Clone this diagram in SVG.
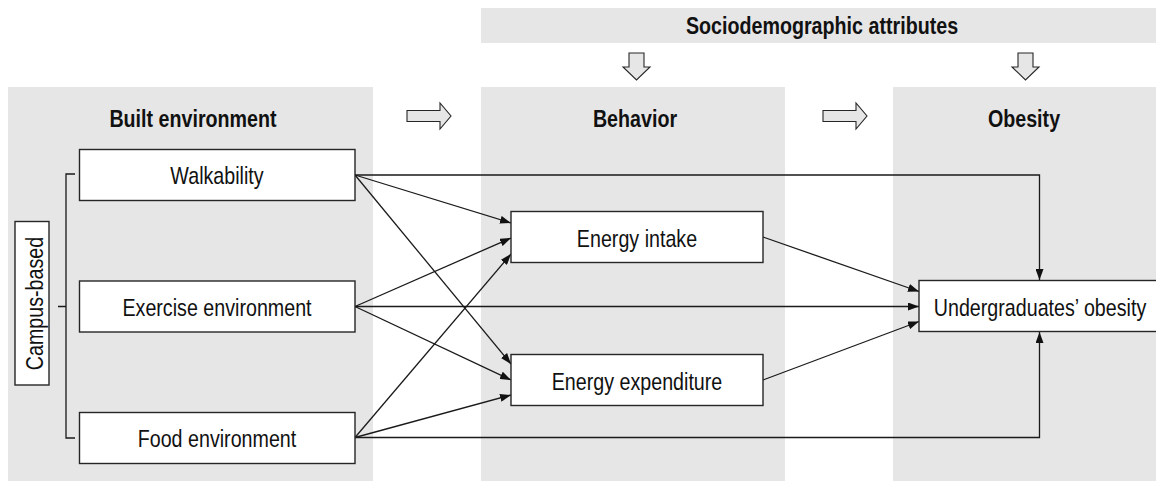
<svg xmlns="http://www.w3.org/2000/svg" width="1156" height="483" viewBox="0 0 1156 483">
<style>
.panel{fill:#e6e6e6;stroke:none}
.box{fill:#ffffff;stroke:#262626;stroke-width:1.4}
.blk{fill:#e6e6e6;stroke:#262626;stroke-width:1.1;stroke-linejoin:miter}
.t{font-family:"Liberation Sans",Arial,sans-serif;font-size:24px;fill:#111;text-anchor:middle}
.h{font-family:"Liberation Sans",Arial,sans-serif;font-size:24px;font-weight:bold;fill:#111;text-anchor:middle}
.ln{fill:none;stroke:#1a1a1a;stroke-width:1.3}
.br{fill:none;stroke:#1a1a1a;stroke-width:1.3}
</style>
<defs>
<marker id="ah" markerUnits="userSpaceOnUse" markerWidth="11" markerHeight="8" refX="11" refY="4" orient="auto">
<path d="M0,0 L11,4 L0,8 z" fill="#111"/>
</marker>
</defs>
<g id="backgrounds">
<rect class="panel" x="481" y="8" width="675" height="35"/>
<rect class="panel" x="8" y="87" width="365" height="394"/>
<rect class="panel" x="481" y="87" width="304" height="394"/>
<rect class="panel" x="893" y="87" width="263" height="394"/>
</g>
<g id="headers">
<text class="h" transform="translate(822,34) scale(0.82,1)">Sociodemographic attributes</text>
<text class="h" transform="translate(193,127) scale(0.82,1)">Built environment</text>
<text class="h" transform="translate(635,127) scale(0.82,1)">Behavior</text>
<text class="h" transform="translate(1024,127) scale(0.82,1)">Obesity</text>
</g>
<g id="block-arrows">
<polygon class="blk" points="407,110.5 440,110.5 440,103 451,116 440,129 440,121.5 407,121.5"/>
<polygon class="blk" points="823,110.5 856,110.5 856,103 867,116 856,129 856,121.5 823,121.5"/>
<polygon class="blk" points="629,53 644,53 644,67 650,67 636.5,80 623,67 629,67"/>
<polygon class="blk" points="1018,53 1033,53 1033,67 1039,67 1025.5,80 1012,67 1018,67"/>
</g>
<g id="connectors">
<path class="ln" d="M355,175 H1039.5 V280" marker-end="url(#ah)"/>
<path class="ln" d="M355,437.5 H1039.5 V332" marker-end="url(#ah)"/>
<path class="ln" d="M355,306.5 H919" marker-end="url(#ah)"/>
<path class="ln" d="M355,175 L511,223" marker-end="url(#ah)"/>
<path class="ln" d="M355,175 L511,364" marker-end="url(#ah)"/>
<path class="ln" d="M355,306.5 L511,238" marker-end="url(#ah)"/>
<path class="ln" d="M355,306.5 L511,380" marker-end="url(#ah)"/>
<path class="ln" d="M355,437.5 L511,254" marker-end="url(#ah)"/>
<path class="ln" d="M355,437.5 L511,395" marker-end="url(#ah)"/>
<path class="ln" d="M763,237 L919,291.5" marker-end="url(#ah)"/>
<path class="ln" d="M763,380 L919,321.5" marker-end="url(#ah)"/>
</g>
<g id="campus-bracket">
<path class="br" d="M75,174 H66 V438 H75 M58,306.5 H66"/>
</g>
<g id="campus-based">
<rect class="box" x="15" y="221.5" width="34" height="163.5"/>
<text class="t" transform="translate(42.5,303.5) rotate(-90) scale(0.82,1)">Campus-based</text>
</g>
<g id="walkability">
<rect class="box" x="79.5" y="149.5" width="275.5" height="51"/>
<text class="t" transform="translate(217,184) scale(0.82,1)">Walkability</text>
</g>
<g id="exercise-environment">
<rect class="box" x="79.5" y="281" width="275.5" height="51"/>
<text class="t" transform="translate(217,315.5) scale(0.82,1)">Exercise environment</text>
</g>
<g id="food-environment">
<rect class="box" x="79.5" y="412.5" width="275.5" height="51"/>
<text class="t" transform="translate(217,447) scale(0.82,1)">Food environment</text>
</g>
<g id="energy-intake">
<rect class="box" x="511" y="211.5" width="252" height="51"/>
<text class="t" transform="translate(637,246.5) scale(0.82,1)">Energy intake</text>
</g>
<g id="energy-expenditure">
<rect class="box" x="511" y="354.5" width="252" height="51"/>
<text class="t" transform="translate(637,389.5) scale(0.82,1)">Energy expenditure</text>
</g>
<g id="undergraduates-obesity">
<rect class="box" x="919" y="280.5" width="245" height="51"/>
<text class="t" transform="translate(1040,315.5) scale(0.82,1)">Undergraduates’ obesity</text>
</g>
</svg>
